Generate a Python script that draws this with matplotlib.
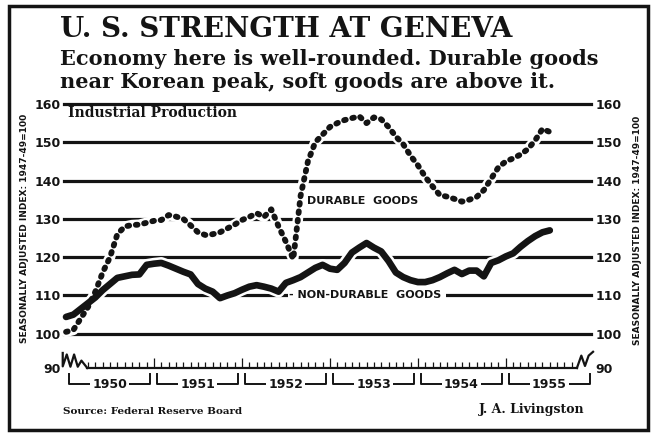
import matplotlib
matplotlib.use("Agg")
import matplotlib.pyplot as plt
from matplotlib.patches import Rectangle

# monthly index values, Jan 1950 .. Jul 1955 (1947-49 = 100)
months = list(range(67))
durable = [100.5, 101, 104, 107, 111, 116, 120, 126, 128, 128.4, 128.5, 129,
           129.5, 129.7, 131, 130.6, 130, 128.3, 126.5, 125.8, 126, 126.5, 127.5, 128.5,
           129.7, 130.5, 131.5, 130.5, 132.5, 128, 124, 119.5, 136, 145, 150, 152,
           154, 155, 155.8, 156.3, 156.8, 155, 156.5, 156, 154, 151.5, 149.5, 146.5,
           144, 141, 138.5, 136.2, 135.8, 135.2, 134.5, 135, 135.7, 137.5, 140.5, 143.5,
           145, 145.8, 146.8, 148.2, 150.5, 153.5, 152.7]
nondurable = [104.4, 105, 106.5, 108, 109.5, 111.4, 113, 114.6, 115, 115.4, 115.5, 118,
              118.3, 118.5, 117.8, 117, 116.2, 115.5, 113, 111.8, 111, 109.3, 110, 110.6,
              111.5, 112.3, 112.7, 112.3, 111.8, 111, 113.3, 114, 114.8, 116, 117.2, 118,
              117, 116.7, 118.5, 121.2, 122.5, 123.7, 122.5, 121.5, 119, 116, 114.8, 114,
              113.5, 113.5, 114, 114.8, 115.8, 116.7, 115.6, 116.5, 116.5, 115, 118.5, 119.2,
              120.2, 121, 122.7, 124.2, 125.5, 126.5, 127]
years = ['1950', '1951', '1952', '1953', '1954', '1955']
ytick_vals = [91.07, 100, 110, 120, 130, 140, 150, 160]
ytick_text = ['90', '100', '110', '120', '130', '140', '150', '160']

ink = '#141414'
serif = 'DejaVu Serif'
plt.rcParams['font.weight'] = 'bold'
plt.rcParams['font.family'] = 'DejaVu Sans'

fig = plt.figure(figsize=(6.51, 4.33), dpi=100)
fig.patch.set_facecolor('white')
ax = fig.add_axes([62 / 651, 1 - 368 / 433, 532 / 651, 268 / 433])
ax.set_xlim(-0.55, 72.03)
ax.set_ylim(91.07, 161.04)
for s in ax.spines.values():
    s.set_visible(False)
ax.set_xticks([])
ax.set_yticks(ytick_vals, ytick_text)
ax.tick_params(axis='y', length=0, pad=1, labelsize=9, colors=ink,
               left=False, right=False, labelleft=True, labelright=True)

# heavy grid rules
for v in range(100, 161, 10):
    ax.plot([-0.3, 71.6], [v, v], color=ink, lw=2.3, zorder=1)

# curves with white halos that break the rules
ax.plot(months, nondurable, color='white', lw=8.5, zorder=2, solid_capstyle='round')
ax.plot(months, durable, color='white', lw=7.5, zorder=2, solid_capstyle='round')
ax.plot(months, nondurable, color=ink, lw=4.8, zorder=3,
        solid_joinstyle='round', solid_capstyle='round')
ax.plot(months, durable, color=ink, lw=4.2, ls=(0, (0.3, 1.15)),
        dash_capstyle='round', zorder=3)

# time axis: baseline, scale breaks, monthly ticks
y0 = 91.07
ax.plot([2.9, 69.7], [y0, y0], color=ink, lw=1.6, clip_on=False)
ax.plot([-0.45, -0.45, 0.1, 0.6, 1.1, 1.6, 2.1, 2.9],
        [95.0, 91.5, 94.6, 91.4, 94.6, 91.4, 93.0, y0], color=ink, lw=1.6, clip_on=False)
ax.plot([69.7, 70.3, 70.8, 71.3, 71.9],
        [y0, 94.3, 91.6, 94.3, 95.3], color=ink, lw=1.6, clip_on=False)
ticks = list(range(3, 70))
heights = [y0 + (2.6 if m % 12 == 0 else 1.5) for m in ticks]
ax.vlines(ticks, y0, heights, color=ink, lw=0.9, clip_on=False)

for j, yr in enumerate(years):
    a, b = 12 * j + 0.4, 12 * j + 11.5
    ax.plot([a, a, b, b], [89.6, 86.8, 86.8, 89.6], color=ink, lw=1.4, clip_on=False)
    ax.text((a + b) / 2, 86.8, yr, ha='center', va='center', fontsize=9, color=ink,
            bbox=dict(fc='white', ec='none', pad=1.5), clip_on=False)

# in-chart labels
ax.text(0.3, 157.6, 'Industrial Production', family=serif, fontsize=10, color=ink,
        ha='left', va='center')
ax.text(32.9, 134.7, 'DURABLE  GOODS', fontsize=8, color=ink, ha='left', va='center')
ax.text(30.4, 110, '- NON-DURABLE  GOODS ', fontsize=8, color=ink, ha='left',
        va='center', zorder=4, bbox=dict(fc='white', ec='none', pad=1))

# side captions
side = 'SEASONALLY ADJUSTED INDEX: 1947-49=100'
fig.text(25 / 651, 1 - 228 / 433, side, rotation=90, ha='center', va='center',
         fontsize=6.5, color=ink)
fig.text(638 / 651, 1 - 230 / 433, side, rotation=90, ha='center', va='center',
         fontsize=6.5, color=ink)

# headline
fig.text(60 / 651, 1 - 37 / 433, 'U. S. STRENGTH AT GENEVA', family=serif,
         fontsize=20, color=ink, va='baseline')
fig.text(60 / 651, 1 - 65 / 433, 'Economy here is well-rounded. Durable goods',
         family=serif, fontsize=15, color=ink, va='baseline')
fig.text(60 / 651, 1 - 88 / 433, 'near Korean peak, soft goods are above it.',
         family=serif, fontsize=15, color=ink, va='baseline')

fig.text(63 / 651, 1 - 411 / 433, 'Source: Federal Reserve Board', family=serif,
         fontsize=7.5, color=ink, va='center')
fig.text(585 / 651, 1 - 409 / 433, 'J. A. Livingston', family=serif,
         fontsize=9, color=ink, va='center', ha='right')

fig.add_artist(Rectangle((9 / 651, 3 / 433), 639 / 651, 424 / 433,
                         transform=fig.transFigure, fill=False, lw=2.5, ec=ink))

fig.savefig('out.png', dpi=100)
